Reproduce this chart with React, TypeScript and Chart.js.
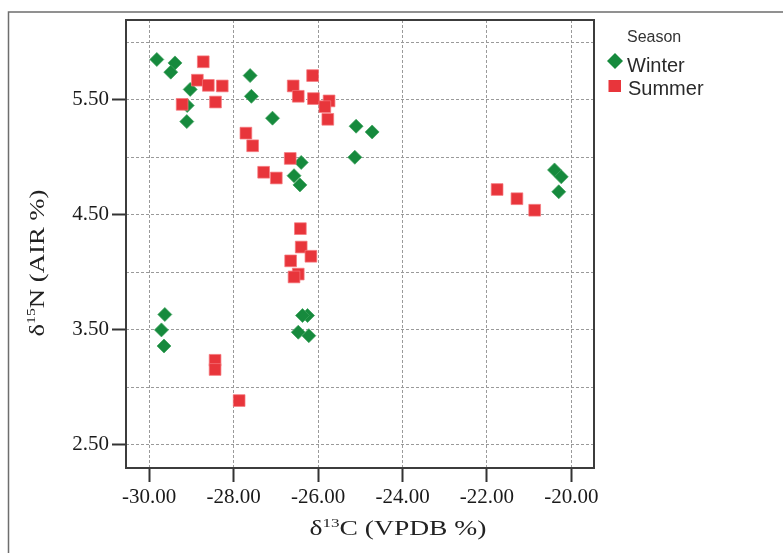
import React, { useEffect, useRef } from 'react';
import { Chart, registerables } from 'chart.js';

Chart.register(...registerables);

// ---- data ----
const seriesNames = ['Winter', 'Summer'];
const legendTitle = 'Season';

const winterX = [-29.82, -29.39, -29.49, -29.03, -29.11, -29.10, -27.61, -27.58, -27.08, -25.10, -24.72, -25.13, -26.40, -26.57, -26.43, -29.63, -29.71, -29.65, -26.25, -26.37, -26.47, -26.22, -20.40, -20.24, -20.30];
const winterY = [5.85, 5.82, 5.74, 5.59, 5.31, 5.45, 5.71, 5.53, 5.34, 5.27, 5.22, 5.00, 4.955, 4.84, 4.76, 3.634, 3.50, 3.36, 3.625, 3.625, 3.48, 3.45, 4.89, 4.83, 4.70];

const summerX = [-28.72, -28.86, -28.60, -28.27, -29.22, -28.43, -26.13, -26.59, -26.47, -26.11, -25.74, -25.84, -25.77, -27.71, -27.55, -26.66, -27.29, -26.99, -26.42, -26.40, -26.17, -26.65, -26.47, -26.57, -28.44, -28.44, -27.87, -21.76, -21.29, -20.87];
const summerY = [5.83, 5.67, 5.625, 5.62, 5.46, 5.48, 5.71, 5.62, 5.53, 5.51, 5.49, 5.44, 5.33, 5.21, 5.10, 4.99, 4.87, 4.82, 4.38, 4.22, 4.14, 4.10, 3.985, 3.96, 3.236, 3.156, 2.886, 4.72, 4.64, 4.54];

const xTickValues = [-30, -28, -26, -24, -22, -20];
const yGridValues = [2.5, 3.0, 3.5, 4.0, 4.5, 5.0, 5.5, 6.0];
const yLabelValues = [2.5, 3.5, 4.5, 5.5];

const xTitleParts = [
  { text: 'δ', sup: false },
  { text: '13', sup: true },
  { text: 'C (VPDB %)', sup: false },
];
const yTitleParts = [
  { text: 'δ', sup: false },
  { text: '15', sup: true },
  { text: 'N (AIR %)', sup: false },
];

const GREEN = '#168a3d';
const RED = '#e8353b';
const SERIF = '"Liberation Serif", "DejaVu Serif", serif';
const SANS = '"Liberation Sans", Arial, sans-serif';

function drawTitle(
  ctx: CanvasRenderingContext2D,
  parts: { text: string; sup: boolean }[],
  cx: number,
  baseline: number,
  targetWidth: number,
  size: number,
  rotate: boolean
) {
  const supSize = Math.round(size * 0.6);
  let total = 0;
  const widths: number[] = [];
  for (const p of parts) {
    ctx.font = `${p.sup ? supSize : size}px ${SERIF}`;
    const w = ctx.measureText(p.text).width;
    widths.push(w);
    total += w;
  }
  const sx = targetWidth / total;
  ctx.save();
  if (rotate) {
    ctx.translate(baseline, cx);
    ctx.rotate(-Math.PI / 2);
  } else {
    ctx.translate(cx, baseline);
  }
  ctx.scale(sx, 1);
  ctx.fillStyle = '#222222';
  ctx.textBaseline = 'alphabetic';
  ctx.textAlign = 'left';
  let x = -total / 2;
  parts.forEach((p, i) => {
    ctx.font = `${p.sup ? supSize : size}px ${SERIF}`;
    ctx.fillText(p.text, x, p.sup ? -size * 0.38 : 0);
    x += widths[i];
  });
  ctx.restore();
}

const decorPlugin = {
  id: 'decor',
  beforeDraw(chart: any) {
    const ctx: CanvasRenderingContext2D = chart.ctx;
    ctx.save();
    ctx.fillStyle = '#ffffff';
    ctx.fillRect(0, 0, chart.width, chart.height);
    ctx.strokeStyle = '#6e6e6e';
    ctx.lineWidth = 1.5;
    ctx.strokeRect(8.5, 12, chart.width + 40, chart.height + 40);
    ctx.restore();
  },
  afterDraw(chart: any) {
    const ctx: CanvasRenderingContext2D = chart.ctx;
    const a = chart.chartArea;
    ctx.save();
    ctx.strokeStyle = '#3c3c3c';
    ctx.lineWidth = 2;
    ctx.strokeRect(a.left, a.top, a.right - a.left, a.bottom - a.top);
    ctx.restore();

    drawTitle(ctx, xTitleParts, 398, 535, 177, 21, false);
    drawTitle(ctx, yTitleParts, 263, 43.5, 147, 22, true);

    // legend
    ctx.save();
    ctx.fillStyle = '#333333';
    ctx.textAlign = 'left';
    ctx.textBaseline = 'alphabetic';
    ctx.font = `16px ${SANS}`;
    ctx.fillText(legendTitle, 627, 41.5);
    ctx.font = `20px ${SANS}`;
    ctx.fillStyle = '#2a2a2a';
    ctx.fillText(seriesNames[0], 627, 71.5);
    ctx.fillText(seriesNames[1], 628, 94.5);
    ctx.fillStyle = GREEN;
    ctx.beginPath();
    ctx.moveTo(607, 61);
    ctx.lineTo(615, 53);
    ctx.lineTo(623, 61);
    ctx.lineTo(615, 69);
    ctx.closePath();
    ctx.fill();
    ctx.fillStyle = RED;
    ctx.fillRect(608.5, 80, 12.5, 12);
    ctx.restore();
  },
};

export default function App() {
  const canvasRef = useRef<HTMLCanvasElement | null>(null);

  useEffect(() => {
    document.body.style.margin = '0';
    const canvas = canvasRef.current;
    if (!canvas) return;

    const winterData = winterX.map((x, i) => ({ x, y: winterY[i] }));
    const summerData = summerX.map((x, i) => ({ x, y: summerY[i] }));

    const chart = new Chart(canvas, {
      type: 'scatter',
      data: {
        datasets: [
          {
            label: seriesNames[0],
            data: winterData,
            pointStyle: 'rectRot',
            pointRadius: 7,
            backgroundColor: GREEN,
            borderColor: 'rgba(60,160,90,0.9)',
            borderWidth: 0.8,
            order: 1,
          },
          {
            label: seriesNames[1],
            data: summerData,
            pointStyle: 'rect',
            pointRadius: 8.3,
            backgroundColor: RED,
            borderColor: 'rgba(245,120,125,0.9)',
            borderWidth: 0.8,
            order: 0,
          },
        ],
      },
      options: {
        responsive: false,
        animation: false,
        events: [],
        layout: { padding: { left: 0, top: 20, right: 189, bottom: 0 } },
        plugins: {
          legend: { display: false },
          tooltip: { enabled: false },
          title: { display: false },
        },
        scales: {
          x: {
            type: 'linear',
            min: -30.55,
            max: -19.465,
            afterBuildTicks: (scale: any) => {
              scale.ticks = xTickValues.map((v) => ({ value: v }));
            },
            afterFit: (scale: any) => {
              scale.height = 85;
            },
            ticks: {
              autoSkip: false,
              maxRotation: 0,
              padding: 3,
              color: '#1a1a1a',
              font: { family: SERIF, size: 21 },
              callback: (v: any) => Number(v).toFixed(2),
            },
            grid: {
              color: '#9a9a9a',
              lineWidth: 1,
              drawTicks: true,
              tickLength: 14,
              tickColor: '#333333',
              tickWidth: 2,
              tickBorderDash: [],
            },
            border: { display: false, dash: [3, 2] },
          },
          y: {
            type: 'linear',
            min: 2.3,
            max: 6.193,
            afterBuildTicks: (scale: any) => {
              scale.ticks = yGridValues.map((v) => ({ value: v }));
            },
            afterFit: (scale: any) => {
              scale.width = 126;
            },
            ticks: {
              autoSkip: false,
              padding: 3,
              color: '#1a1a1a',
              font: { family: SERIF, size: 21 },
              callback: (v: any) => (yLabelValues.includes(Number(v)) ? Number(v).toFixed(2) : ''),
            },
            grid: {
              color: '#9a9a9a',
              lineWidth: 1,
              drawTicks: true,
              tickLength: 14,
              tickColor: (c: any) =>
                c.tick && yLabelValues.includes(c.tick.value) ? '#333333' : 'rgba(0,0,0,0)',
              tickWidth: 2,
              tickBorderDash: [],
            },
            border: { display: false, dash: [3, 2] },
          },
        },
      },
      plugins: [decorPlugin],
    });

    return () => {
      chart.destroy();
    };
  }, []);

  return (
    <div style={{ width: 783, height: 553, position: 'relative', background: '#fff' }}>
      <canvas ref={canvasRef} width={783} height={553} style={{ display: 'block' }} />
    </div>
  );
}
